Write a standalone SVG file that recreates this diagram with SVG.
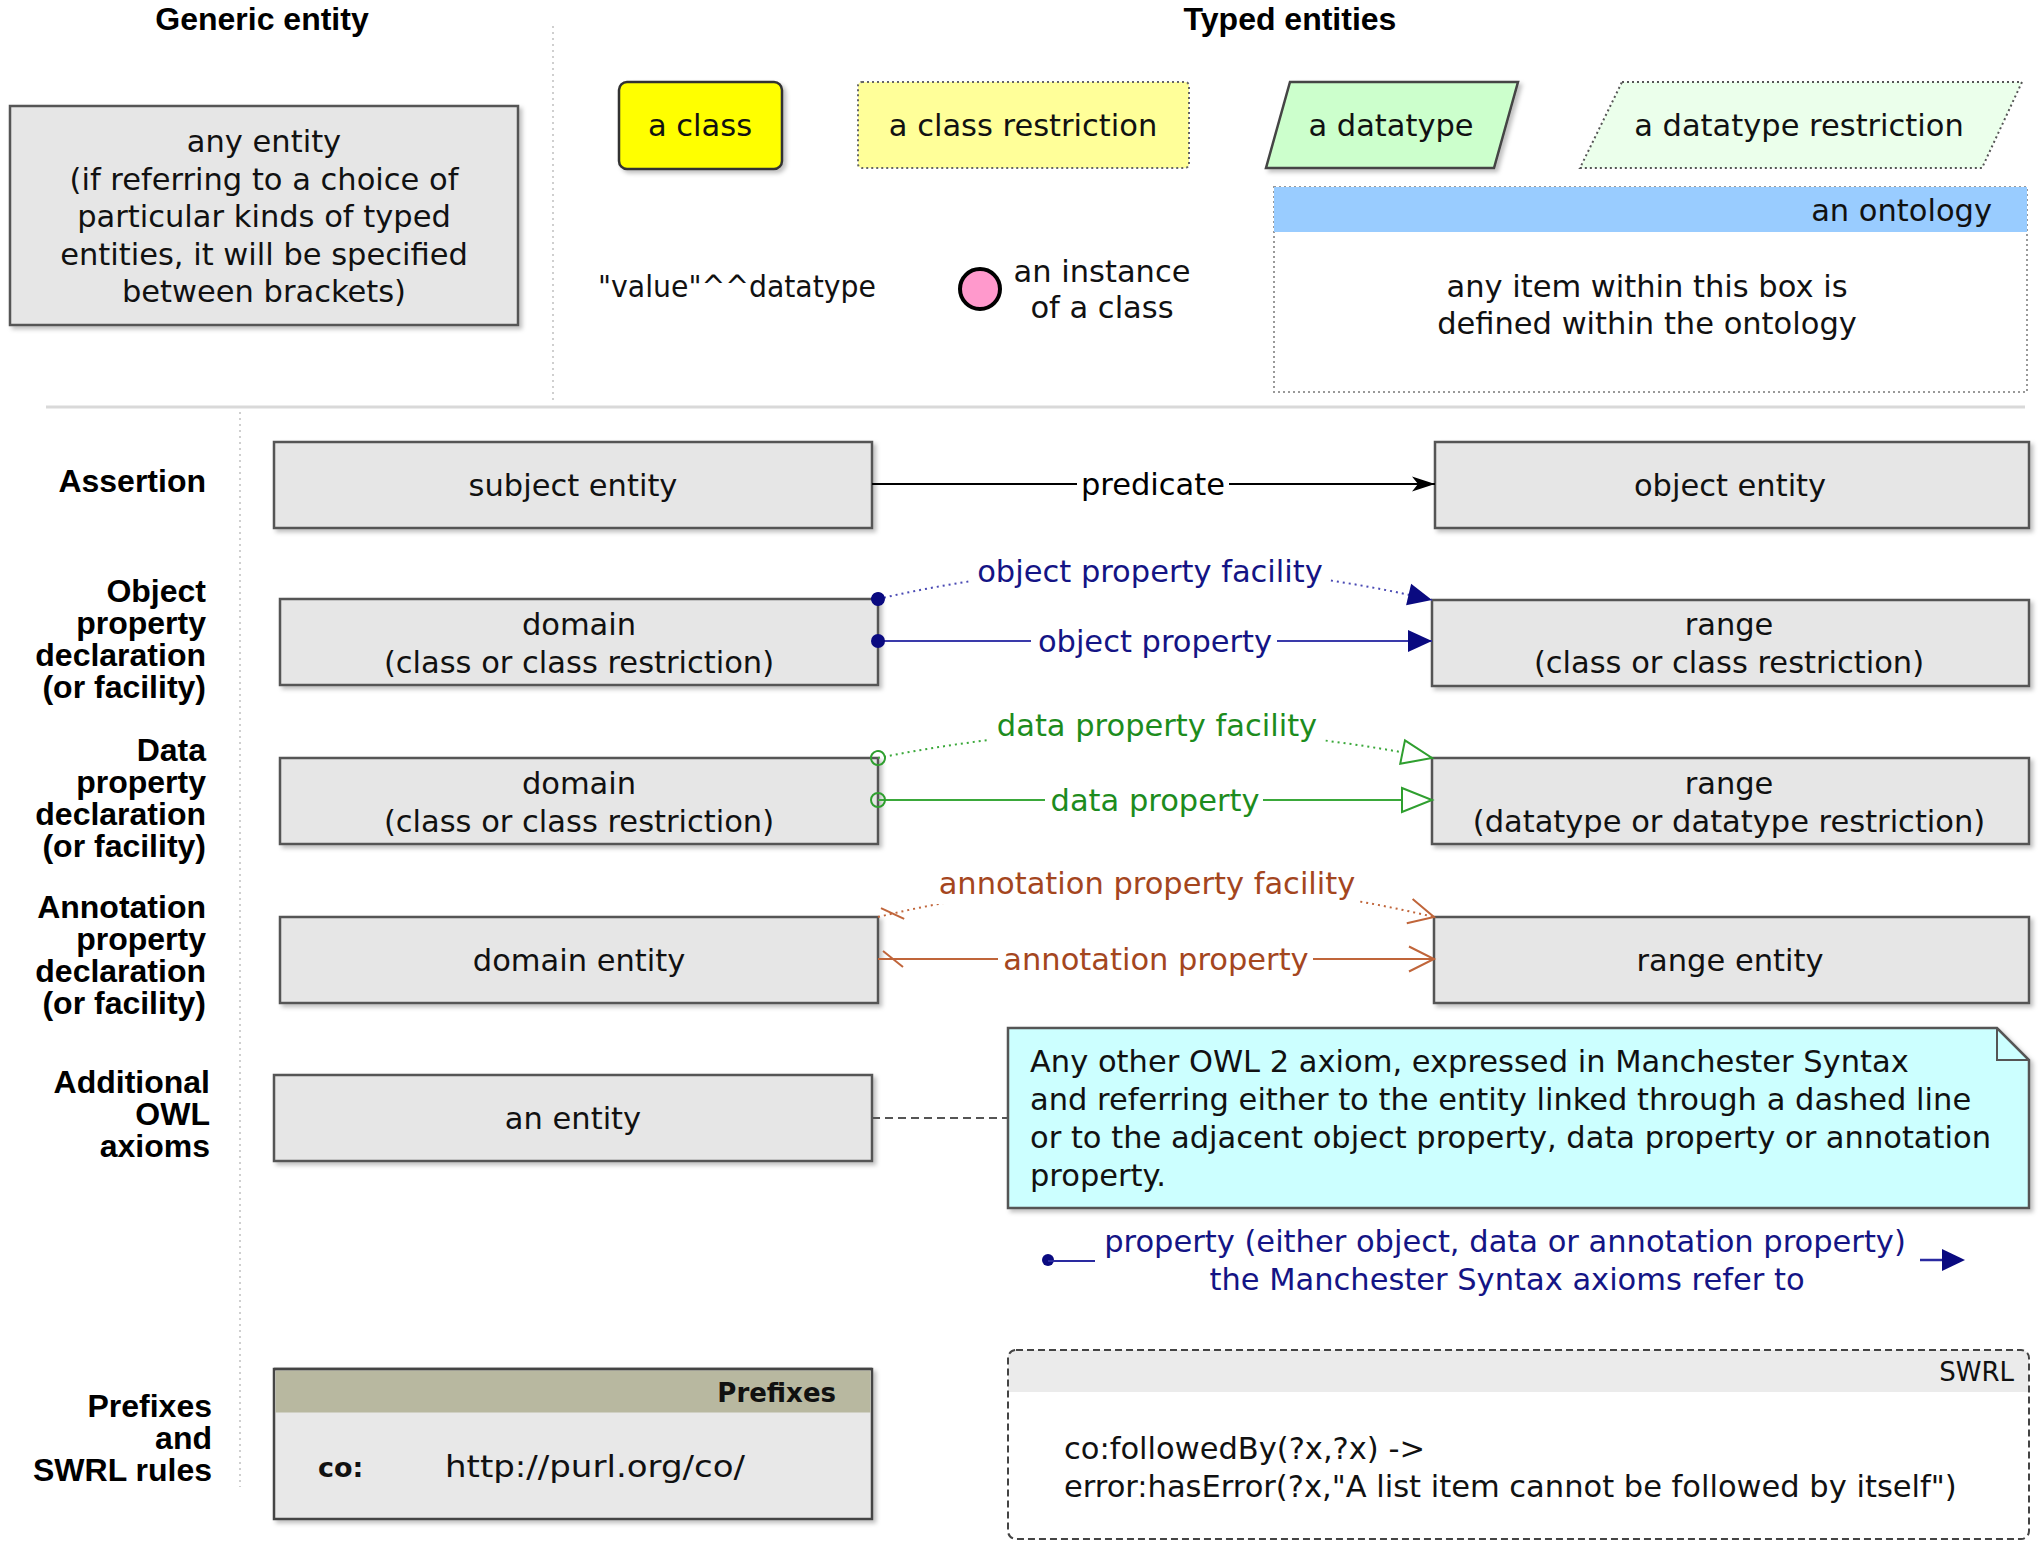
<svg xmlns="http://www.w3.org/2000/svg" width="2042" height="1552" viewBox="0 0 2042 1552">
<defs>
<style>
.lbl{font-family:"Liberation Sans",Arial,Helvetica,sans-serif;font-weight:bold;font-size:32px;fill:#000;text-anchor:end}
.ttl{font-family:"Liberation Sans",Arial,Helvetica,sans-serif;font-weight:bold;font-size:32px;fill:#000;text-anchor:middle}
.t{font-family:"DejaVu Sans",Verdana,sans-serif;font-size:30.5px;fill:#111;text-anchor:middle}
.tl{font-family:"DejaVu Sans",Verdana,sans-serif;font-size:30.5px;fill:#111}
.box{fill:#e6e6e6;stroke:#555;stroke-width:2.5}
.sep{stroke:#cfcfcf;stroke-width:2;stroke-dasharray:2,4;fill:none}
.navy{fill:#141485}
.green{fill:#1d8c1d}
.brown{fill:#a4461e}
.bg{fill:#fff}
</style>
<filter id="sh" x="-5%" y="-10%" width="115%" height="130%">
<feDropShadow dx="3" dy="3" stdDeviation="2" flood-color="#000" flood-opacity="0.25"/>
</filter>
<marker id="arrBlack" markerUnits="userSpaceOnUse" markerWidth="30" markerHeight="22" refX="26" refY="10" orient="auto" overflow="visible">
<path d="M3,2.5 L26,10 L3,17.5 L9,10 Z" fill="#000"/>
</marker>
<marker id="arrNavy" markerUnits="userSpaceOnUse" markerWidth="26" markerHeight="24" refX="24" refY="12" orient="auto" overflow="visible">
<path d="M0,1 L24,12 L0,23 Z" fill="#0a0a80"/>
</marker>
<marker id="dotNavy" markerUnits="userSpaceOnUse" markerWidth="16" markerHeight="16" refX="8" refY="8" orient="auto" overflow="visible">
<circle cx="8" cy="8" r="7" fill="#0a0a80"/>
</marker>
<marker id="triGreen" markerUnits="userSpaceOnUse" markerWidth="34" markerHeight="28" refX="31" refY="13" orient="auto" overflow="visible">
<path d="M1,1 L31,13 L1,25 Z" fill="#fff" stroke="#2f9f2f" stroke-width="2"/>
</marker>
<marker id="circGreen" markerUnits="userSpaceOnUse" markerWidth="18" markerHeight="18" refX="9" refY="9" orient="auto" overflow="visible">
<circle cx="9" cy="9" r="7" fill="none" stroke="#2f9f2f" stroke-width="2"/>
</marker>
<marker id="vBrown" markerUnits="userSpaceOnUse" markerWidth="30" markerHeight="28" refX="28" refY="13.5" orient="auto" overflow="visible">
<path d="M3,1 L28,13.5 L3,26" fill="none" stroke="#c0653a" stroke-width="2"/>
</marker>
<marker id="slashBrown" markerUnits="userSpaceOnUse" markerWidth="30" markerHeight="20" refX="0" refY="10" orient="auto" overflow="visible">
<path d="M5,2 L25,18" fill="none" stroke="#c0653a" stroke-width="2"/>
</marker>
</defs>

<rect x="0" y="0" width="2042" height="1552" fill="#fff"/>

<g id="titles">
<text class="ttl" x="262" y="30">Generic entity</text>
<text class="ttl" x="1290" y="30">Typed entities</text>
</g>

<g id="separators">
<line class="sep" x1="553" y1="26" x2="553" y2="404"/>
<line x1="46" y1="407" x2="2025" y2="407" stroke="#d9d9d9" stroke-width="3"/>
<line class="sep" x1="240" y1="412" x2="240" y2="1487"/>
</g>

<g id="row-labels">
<text class="lbl" x="206" y="492">Assertion</text>
<text class="lbl" x="206" y="602">Object</text>
<text class="lbl" x="206" y="634">property</text>
<text class="lbl" x="206" y="666">declaration</text>
<text class="lbl" x="206" y="698">(or facility)</text>
<text class="lbl" x="206" y="761">Data</text>
<text class="lbl" x="206" y="793">property</text>
<text class="lbl" x="206" y="825">declaration</text>
<text class="lbl" x="206" y="857">(or facility)</text>
<text class="lbl" x="206" y="918">Annotation</text>
<text class="lbl" x="206" y="950">property</text>
<text class="lbl" x="206" y="982">declaration</text>
<text class="lbl" x="206" y="1014">(or facility)</text>
<text class="lbl" x="210" y="1093">Additional</text>
<text class="lbl" x="210" y="1125">OWL</text>
<text class="lbl" x="210" y="1157">axioms</text>
<text class="lbl" x="212" y="1417">Prefixes</text>
<text class="lbl" x="212" y="1449">and</text>
<text class="lbl" x="212" y="1481">SWRL rules</text>
</g>

<g id="any-entity">
<rect class="box" x="10" y="106" width="508" height="219" filter="url(#sh)"/>
<text class="t" x="264" y="152">any entity</text>
<text class="t" x="264" y="190">(if referring to a choice of</text>
<text class="t" x="264" y="227">particular kinds of typed</text>
<text class="t" x="264" y="265">entities, it will be specified</text>
<text class="t" x="264" y="302">between brackets)</text>
</g>

<g id="a-class">
<rect x="619" y="82" width="163" height="87" rx="8" fill="#ffff00" stroke="#333" stroke-width="2.5" filter="url(#sh)"/>
<text class="t" x="700" y="136">a class</text>
</g>

<g id="a-class-restriction">
<rect x="858" y="82" width="331" height="86" rx="4" fill="#ffff99" stroke="#666" stroke-width="2" stroke-dasharray="2,3"/>
<text class="t" x="1023" y="136">a class restriction</text>
</g>

<g id="a-datatype">
<polygon points="1290,82 1518,82 1494,168 1266,168" fill="#ccffcc" stroke="#444" stroke-width="2.5" filter="url(#sh)"/>
<text class="t" x="1391" y="136">a datatype</text>
</g>

<g id="a-datatype-restriction">
<polygon points="1622,82 2022,82 1982,168 1580,168" fill="#ebffeb" stroke="#555" stroke-width="2" stroke-dasharray="2,3"/>
<text class="t" x="1799" y="136">a datatype restriction</text>
</g>

<g id="value-datatype">
<text class="t" x="737" y="297" textLength="278" lengthAdjust="spacingAndGlyphs">"value"^^datatype</text>
</g>

<g id="an-instance">
<circle cx="980" cy="289" r="20" fill="#ff99cc" stroke="#000" stroke-width="4"/>
<text class="t" x="1102" y="282">an instance</text>
<text class="t" x="1102" y="318">of a class</text>
</g>

<g id="an-ontology">
<rect x="1274" y="187" width="753" height="205" fill="#fff" stroke="#999" stroke-width="2" stroke-dasharray="2,3"/>
<rect x="1274" y="187" width="753" height="45" fill="#99ccff"/>
<text class="tl" x="1992" y="221" text-anchor="end">an ontology</text>
<text class="t" x="1647" y="297">any item within this box is</text>
<text class="t" x="1647" y="334">defined within the ontology</text>
</g>

<g id="subject-entity">
<rect class="box" x="274" y="442" width="598" height="86" filter="url(#sh)"/>
<text class="t" x="573" y="496">subject entity</text>
</g>

<g id="object-entity">
<rect class="box" x="1435" y="442" width="594" height="86" filter="url(#sh)"/>
<text class="t" x="1730" y="496">object entity</text>
</g>

<g id="op-domain">
<rect class="box" x="280" y="599" width="598" height="86" filter="url(#sh)"/>
<text class="t" x="579" y="635">domain</text>
<text class="t" x="579" y="673">(class or class restriction)</text>
</g>

<g id="op-range">
<rect class="box" x="1432" y="600" width="597" height="86" filter="url(#sh)"/>
<text class="t" x="1729" y="635">range</text>
<text class="t" x="1729" y="673">(class or class restriction)</text>
</g>

<g id="dp-domain">
<rect class="box" x="280" y="758" width="598" height="86" filter="url(#sh)"/>
<text class="t" x="579" y="794">domain</text>
<text class="t" x="579" y="832">(class or class restriction)</text>
</g>

<g id="dp-range">
<rect class="box" x="1432" y="758" width="597" height="86" filter="url(#sh)"/>
<text class="t" x="1729" y="794">range</text>
<text class="t" x="1729" y="832">(datatype or datatype restriction)</text>
</g>

<g id="ap-domain">
<rect class="box" x="280" y="917" width="598" height="86" filter="url(#sh)"/>
<text class="t" x="579" y="971">domain entity</text>
</g>

<g id="ap-range">
<rect class="box" x="1434" y="917" width="595" height="86" filter="url(#sh)"/>
<text class="t" x="1730" y="971">range entity</text>
</g>

<g id="an-entity">
<rect class="box" x="274" y="1075" width="598" height="86" filter="url(#sh)"/>
<text class="t" x="573" y="1129">an entity</text>
</g>

<g id="note">
<path d="M1008,1028 H1997 L2029,1060 V1208 H1008 Z" fill="#ccffff" stroke="#555" stroke-width="2.5" filter="url(#sh)"/>
<path d="M1997,1028 V1060 H2029" fill="none" stroke="#555" stroke-width="2"/>
<text class="tl" x="1030" y="1072">Any other OWL 2 axiom, expressed in Manchester Syntax</text>
<text class="tl" x="1030" y="1110">and referring either to the entity linked through a dashed line</text>
<text class="tl" x="1030" y="1148">or to the adjacent object property, data property or annotation</text>
<text class="tl" x="1030" y="1186">property.</text>
</g>

<g id="property-legend">
<circle cx="1048" cy="1260" r="6" fill="#0a0a80"/>
<line x1="1048" y1="1261" x2="1095" y2="1261" stroke="#2a2aa0" stroke-width="2"/>
<text class="t navy" x="1505" y="1252">property (either object, data or annotation property)</text>
<text class="t navy" x="1507" y="1290">the Manchester Syntax axioms refer to</text>
<line x1="1920" y1="1260" x2="1945" y2="1260" stroke="#2a2aa0" stroke-width="2.5"/>
<path d="M1942,1249 L1965,1260 L1942,1271 Z" fill="#0a0a80"/>
</g>

<g id="prefixes">
<rect x="274" y="1369" width="598" height="150" fill="#e8e8e8" stroke="#444" stroke-width="2.5" filter="url(#sh)"/>
<rect x="275.5" y="1370.5" width="595" height="42" fill="#b8b8a0"/>
<line x1="274" y1="1369" x2="872" y2="1369" stroke="#444" stroke-width="2.5"/>
<text x="836" y="1402" text-anchor="end" style="font-family:'DejaVu Sans',Verdana,sans-serif;font-weight:bold;font-size:26px;fill:#111">Prefixes</text>
<text x="318" y="1477" style="font-family:'DejaVu Sans',Verdana,sans-serif;font-weight:bold;font-size:27px;fill:#111">co:</text>
<text class="tl" x="445" y="1477" textLength="300" lengthAdjust="spacingAndGlyphs">http://purl.org/co/</text>
</g>

<g id="swrl">
<path d="M1008,1392 V1358 Q1008,1350 1016,1350 H2021 Q2029,1350 2029,1358 V1392 Z" fill="#ebebeb"/>
<rect x="1008" y="1350" width="1021" height="189" rx="8" fill="none" stroke="#444" stroke-width="2" stroke-dasharray="7,4"/>
<text x="2014" y="1381" text-anchor="end" style="font-family:'DejaVu Sans',Verdana,sans-serif;font-size:26px;fill:#111">SWRL</text>
<text class="tl" x="1064" y="1459">co:followedBy(?x,?x) -&gt;</text>
<text class="tl" x="1064" y="1497">error:hasError(?x,"A list item cannot be followed by itself")</text>
</g>

<g id="connectors">
<!-- assertion -->
<line x1="872" y1="484" x2="1435" y2="484" stroke="#000" stroke-width="2" marker-end="url(#arrBlack)"/>
<rect class="bg" x="1077" y="466" width="152" height="36"/>
<text class="t" x="1153" y="495" style="fill:#000">predicate</text>

<!-- object property facility -->
<path d="M878,599 Q1155,535 1432,600" fill="none" stroke="#4a4ab4" stroke-width="2" stroke-dasharray="2,4" marker-start="url(#dotNavy)" marker-end="url(#arrNavy)"/>
<rect class="bg" x="972" y="553" width="356" height="38"/>
<text class="t navy" x="1150" y="582">object property facility</text>
<!-- object property -->
<line x1="878" y1="641" x2="1432" y2="641" stroke="#3a3aaa" stroke-width="2" marker-start="url(#dotNavy)" marker-end="url(#arrNavy)"/>
<rect class="bg" x="1031" y="622" width="246" height="38"/>
<text class="t navy" x="1155" y="652">object property</text>

<!-- data property facility -->
<path d="M878,758 Q1155,702 1432,758" fill="none" stroke="#3aa83a" stroke-width="2" stroke-dasharray="2,4" marker-start="url(#circGreen)" marker-end="url(#triGreen)"/>
<rect class="bg" x="990" y="708" width="334" height="38"/>
<text class="t green" x="1157" y="736">data property facility</text>
<!-- data property -->
<line x1="878" y1="800" x2="1432" y2="800" stroke="#3aa83a" stroke-width="2" marker-start="url(#circGreen)" marker-end="url(#triGreen)"/>
<rect class="bg" x="1045" y="781" width="218" height="38"/>
<text class="t green" x="1155" y="811">data property</text>

<!-- annotation property facility -->
<path d="M878,917 Q1155,850 1434,917" fill="none" stroke="#c0653a" stroke-width="2" stroke-dasharray="2,4" marker-start="url(#slashBrown)" marker-end="url(#vBrown)"/>
<rect class="bg" x="934" y="866" width="426" height="38"/>
<text class="t brown" x="1147" y="894">annotation property facility</text>
<!-- annotation property -->
<line x1="878" y1="959" x2="1434" y2="959" stroke="#c0653a" stroke-width="2" marker-start="url(#slashBrown)" marker-end="url(#vBrown)"/>
<rect class="bg" x="998" y="940" width="315" height="38"/>
<text class="t brown" x="1156" y="970">annotation property</text>

<!-- additional axioms -->
<line x1="872" y1="1118" x2="1008" y2="1118" stroke="#555" stroke-width="2" stroke-dasharray="8,5"/>
</g>
</svg>
